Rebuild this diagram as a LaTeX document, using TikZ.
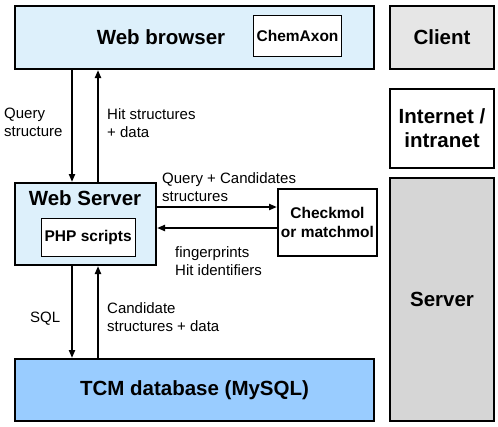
\documentclass[tikz,border=0pt]{standalone}
\usepackage{fontspec}
\setmainfont{Liberation Sans}
\usetikzlibrary{arrows.meta}
\definecolor{lblue}{HTML}{DDF0FB}
\definecolor{mblue}{HTML}{99CCFF}
\definecolor{lgray}{HTML}{E6E6E6}
\definecolor{mgray}{HTML}{D6D6D6}
\begin{document}
\begin{tikzpicture}[x=1pt,y=-1pt,
  box/.style={draw=black,line width=2pt},
  title/.style={font=\bfseries\fontsize{20.5}{24}\selectfont,align=center},
  inbox/.style={draw=black,line width=0.6pt,fill=white,anchor=north west,font=\bfseries\fontsize{15.5}{18}\selectfont},
  lab/.style={font=\fontsize{15}{18}\selectfont,align=left,inner sep=0pt},
  arr/.style={line width=2pt,-{Triangle[length=8pt,width=6pt]}}]
\useasboundingbox (0,0) rectangle (498,426);
% boxes
\node[box,fill=lblue,minimum width=359pt,minimum height=63pt,anchor=north west] (wb) at (14,5) {};
\node[title] (wbt) at (161,37) {Web browser};
\node[inbox,minimum width=84pt,minimum height=41pt] (ca) at (253,15) {ChemAxon};
\node[box,fill=lgray,minimum width=104pt,minimum height=63pt,anchor=north west] (cl) at (389,5) {};
\node[title] at (cl.center) {Client};
\node[box,fill=white,minimum width=104pt,minimum height=79pt,anchor=north west] (in) at (389,88) {};
\node[title] at (in.center) {Internet /\\intranet};
\node[box,fill=mgray,minimum width=104pt,minimum height=243pt,anchor=north west] (sv) at (389,177) {};
\node[title] at (sv.center) {Server};
\node[box,fill=lblue,minimum width=141pt,minimum height=82pt,anchor=north west] (ws) at (14,182) {};
\node[title] at (85,198) {Web Server};
\node[inbox,minimum width=91pt,minimum height=38pt] (php) at (41,218) {PHP scripts};
\node[box,fill=white,minimum width=99pt,minimum height=67pt,anchor=north west,align=center,font=\bfseries\fontsize{15.5}{19}\selectfont,inner sep=1pt] (cm) at (277,188) {Checkmol\\or matchmol};
\node[box,fill=mblue,minimum width=359pt,minimum height=62pt,anchor=north west] (db) at (14,358) {};
\node[title] at (db.center) {TCM database (MySQL)};
% connectors
\draw[arr] (wb.south -| 72,0) -- (ws.north -| 72,0);
\draw[arr] (ws.north -| 98,0) -- (wb.south -| 98,0);
\draw[arr] (ws.south -| 72,0) -- (db.north -| 72,0);
\draw[arr] (db.north -| 98,0) -- (ws.south -| 98,0);
\draw[arr] (ws.east |- 0,207) -- (cm.west |- 0,207);
\draw[arr] (cm.west |- 0,228) -- (ws.east |- 0,228);
% labels
\node[lab,anchor=north west] at (4,108) {Query\\structure};
\node[lab,anchor=north west] at (107,108) {Hit structures\\+ data};
\node[lab,anchor=north west] at (162,172) {Query + Candidates\\structures};
\node[lab,anchor=north west] at (175,246) {fingerprints\\Hit identifiers};
\node[lab,anchor=north west] at (30,312) {SQL};
\node[lab,anchor=north west] at (107,302) {Candidate\\structures + data};
\end{tikzpicture}
\end{document}
